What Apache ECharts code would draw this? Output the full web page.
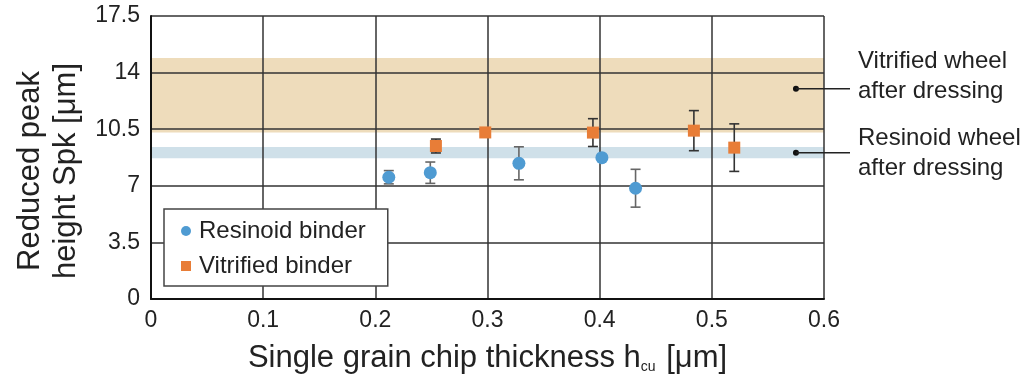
<!DOCTYPE html>
<html>
<head>
<meta charset="utf-8">
<script src="https://cdn.jsdelivr.net/npm/echarts@6/dist/echarts.min.js"></script>
<style>
  html, body { margin: 0; padding: 0; background: #fff; }
  #chart { width: 1032px; height: 387px; }
</style>
</head>
<body>
<div id="chart"></div>
<script>
// resinoid binder points (x = h_cu, y = Spk, err = half bar)
const resX = [0.212, 0.249, 0.328, 0.402, 0.432];
const resY = [7.53, 7.81, 8.39, 8.74, 6.85];
const resErr = [0.41, 0.66, 1.02, 0, 1.17];
// vitrified binder points
const vitX = [0.254, 0.298, 0.394, 0.484, 0.520];
const vitY = [9.46, 10.3, 10.29, 10.41, 9.36];
const vitErr = [0.43, 0, 0.86, 1.24, 1.47];
// wheels after dressing (bands)
const vitBand = [10.3, 14.9];
const resBand = [8.7, 9.4];
const bandNoteX = 0.575;
const bandNoteY = [13.0, 9.05];
const bandNotes = ['Vitrified wheel\nafter dressing', 'Resinoid wheel\nafter dressing'];
const xTicks = { min: 0, max: 0.6, step: 0.1 };
const yTicks = { min: 0, max: 17.5, step: 3.5 };

const font = 'Liberation Sans, Arial, sans-serif';
const blue = '#4F9BD2';
const orange = '#E87D37';

const chart = echarts.init(document.getElementById('chart'));

// 误差线
const errSeries = (xs, ys, es, color) => ({
  type: 'custom',
  z: 8,
  silent: true,
  data: xs.map((x, i) => [x, ys[i] - es[i], ys[i] + es[i]]),
  encode: { x: 0, y: [1, 2] },
  renderItem(params, api) {
    const lo = api.coord([api.value(0), api.value(1)]);
    const hi = api.coord([api.value(0), api.value(2)]);
    if (Math.abs(lo[1] - hi[1]) < 1) return { type: 'group', children: [] };
    const w = 5;
    const st = { stroke: color, lineWidth: 1.6 };
    return {
      type: 'group',
      children: [
        { type: 'line', shape: { x1: lo[0], y1: lo[1], x2: hi[0], y2: hi[1] }, style: st },
        { type: 'line', shape: { x1: lo[0] - w, y1: lo[1], x2: lo[0] + w, y2: lo[1] }, style: st },
        { type: 'line', shape: { x1: hi[0] - w, y1: hi[1], x2: hi[0] + w, y2: hi[1] }, style: st }
      ]
    };
  }
});

const option = {
  animation: false,
  textStyle: { fontFamily: font },
  grid: { left: 151, right: 208, top: 16, bottom: 88, outerBoundsMode: 'none' },
  legend: {
    orient: 'vertical',
    left: 164,
    top: 209,
    z: 20,
    backgroundColor: '#fff',
    borderColor: '#444',
    borderWidth: 1.5,
    borderRadius: 0,
    padding: [8, 22, 6, 17],
    itemGap: 7,
    itemWidth: 10,
    itemHeight: 10,
    textStyle: { fontSize: 24, color: '#222', fontFamily: font, lineHeight: 28, padding: [0, 0, 0, 3] },
    data: [
      { name: 'Resinoid binder', icon: 'circle' },
      { name: 'Vitrified binder', icon: 'rect' }
    ]
  },
  xAxis: {
    type: 'value',
    z: 5,
    min: xTicks.min,
    max: xTicks.max,
    interval: xTicks.step,
    axisLine: { lineStyle: { color: '#111', width: 2 } },
    axisTick: { show: false },
    splitLine: { lineStyle: { color: '#333', width: 1.5 } },
    axisLabel: { fontSize: 23, color: '#222', margin: 10, fontFamily: font },
    name: '{t|Single grain chip thickness h}{s|cu}{t| [μm]}',
    nameLocation: 'middle',
    nameGap: 40,
    nameTextStyle: {
      rich: {
        t: { fontSize: 31, color: '#222', fontFamily: font, lineHeight: 35, verticalAlign: 'bottom' },
        s: { fontSize: 14, color: '#222', fontFamily: font, lineHeight: 27, verticalAlign: 'bottom', padding: [0, 2, 0, 0] }
      }
    }
  },
  yAxis: {
    type: 'value',
    z: 5,
    min: yTicks.min,
    max: yTicks.max,
    interval: yTicks.step,
    axisLine: { show: true, lineStyle: { color: '#111', width: 2 } },
    axisTick: { show: false },
    splitLine: { lineStyle: { color: '#333', width: 1.5 } },
    axisLabel: { fontSize: 23, color: '#222', margin: 11, fontFamily: font }
  },
  series: [
    {
      name: 'bands',
      type: 'line',
      z: 1,
      data: [],
      markArea: {
        silent: true,
        data: [
          [{ yAxis: vitBand[0], itemStyle: { color: '#EEDCBB' } }, { yAxis: vitBand[1] }],
          [{ yAxis: resBand[0], itemStyle: { color: '#CFE0E9' } }, { yAxis: resBand[1] }]
        ]
      }
    },
    errSeries(resX, resY, resErr, '#666'),
    errSeries(vitX, vitY, vitErr, '#333'),
    {
      name: 'Resinoid binder',
      type: 'scatter',
      z: 10,
      symbol: 'circle',
      symbolSize: 13,
      itemStyle: { color: blue, opacity: 1 },
      data: resX.map((x, i) => [x, resY[i]])
    },
    {
      name: 'Vitrified binder',
      type: 'scatter',
      z: 10,
      symbol: 'rect',
      symbolSize: 12,
      itemStyle: { color: orange, opacity: 1 },
      data: vitX.map((x, i) => [x, vitY[i]])
    }
  ]
};
chart.setOption(option);

// 注释：圆点 + 引线 + 文字
const notes = [];
bandNoteY.forEach((y, i) => {
  const p = chart.convertToPixel({ gridIndex: 0 }, [bandNoteX, y]);
  notes.push({ type: 'circle', z: 12, shape: { cx: p[0], cy: p[1], r: 3 }, style: { fill: '#111' } });
  notes.push({ type: 'line', z: 12, shape: { x1: p[0], y1: p[1], x2: 850, y2: p[1] }, style: { stroke: '#222', lineWidth: 1.5 } });
});
notes.push({
  type: 'text', left: 858, top: 46,
  style: { text: bandNotes[0], font: '24px ' + font, fill: '#222', lineHeight: 30 }
});
notes.push({
  type: 'text', left: 858, top: 123,
  style: { text: bandNotes[1], font: '24px ' + font, fill: '#222', lineHeight: 30 }
});
notes.push({
  type: 'text', x: 48, y: 171, rotation: Math.PI / 2,
  style: {
    text: 'Reduced peak\nheight Spk [μm]', font: '31px ' + font, fill: '#222',
    lineHeight: 36, textAlign: 'center', textVerticalAlign: 'middle'
  }
});
chart.setOption({ graphic: notes });
</script>
</body>
</html>
